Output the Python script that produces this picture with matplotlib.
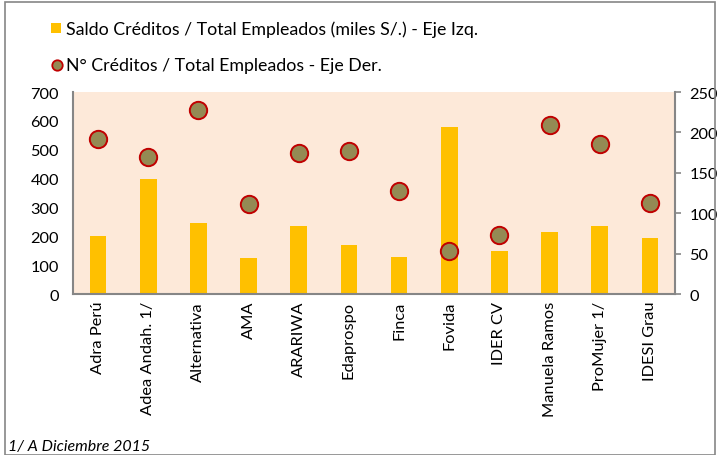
import matplotlib.pyplot as plt
from matplotlib.lines import Line2D
from matplotlib.patches import Rectangle

plt.rcParams["font.family"] = ["Lato", "DejaVu Sans"]

entidades = ["Adra Perú", "Adea Andah. 1/", "Alternativa", "AMA", "ARARIWA", "Edaprospo",
             "Finca", "Fovida", "IDER CV", "Manuela Ramos", "ProMujer 1/", "IDESI Grau"]
saldo_por_empleado = [200, 398, 245, 124, 235, 171, 128, 578, 148, 215, 237, 195]
creditos_por_empleado = [192, 169, 228, 111, 174, 177, 127, 53, 73, 209, 186, 113]

fig = plt.figure(figsize=(7.2, 4.56), dpi=100)
ax = fig.add_axes([0.1014, 0.353, 0.8361, 0.443])
ax2 = ax.twinx()

x = range(len(entidades))
ax.bar(x, saldo_por_empleado, width=0.33, color="#FFC000", zorder=2)
ax2.plot(x, creditos_por_empleado, "o", markersize=12.5, markerfacecolor="#948A54",
         markeredgecolor="#C00000", markeredgewidth=1.4, zorder=3)

ax.set_facecolor("#FDE9D9")
ax.set_xlim(-0.5, len(entidades) - 0.5)
ax.set_ylim(0, 700)
ax.set_yticks(range(0, 701, 100))
ax2.set_ylim(0, 250)
ax2.set_yticks(range(0, 251, 50))
ax.set_xticks(list(x))
ax.set_xticklabels(entidades, rotation=90)

for a in (ax, ax2):
    for s in a.spines.values():
        s.set_visible(False)
ax.spines["left"].set_visible(True)
ax.spines["bottom"].set_visible(True)
ax2.spines["right"].set_visible(True)
for s in ("left", "bottom"):
    ax.spines[s].set_color("#868686")
    ax.spines[s].set_linewidth(1.5)
ax2.spines["right"].set_color("#868686")
ax2.spines["right"].set_linewidth(1.5)
ax.tick_params(axis="y", length=0, labelsize=11.8, pad=10)
ax.tick_params(axis="x", length=0, labelsize=11.8, pad=5)
ax2.tick_params(axis="y", length=4.5, color="#868686", width=1.2, labelsize=11.8, pad=6)

# legend drawn at figure level
fig.patches.append(Rectangle((0.0715, 0.925), 0.0135, 0.0215, transform=fig.transFigure,
                             facecolor="#FFC000", edgecolor="none"))
fig.text(0.091, 0.935, "Saldo Créditos / Total Empleados (miles S/.) - Eje Izq.",
         fontsize=12.8, va="center")
fig.lines.append(Line2D([0.0785], [0.855], transform=fig.transFigure, marker="o",
                        markersize=7.5, markerfacecolor="#948A54", markeredgecolor="#C00000",
                        markeredgewidth=1.3))
fig.text(0.091, 0.855, "N° Créditos / Total Empleados - Eje Der.", fontsize=12.8, va="center")

fig.text(0.011, 0.012, "1/ A Diciembre 2015", fontsize=11.5, style="italic")

fig.patches.append(Rectangle((0.007, 0.0), 0.986, 0.993, transform=fig.transFigure,
                             facecolor="none", edgecolor="#868686", linewidth=1.2))

fig.savefig("out.png", dpi=100)
